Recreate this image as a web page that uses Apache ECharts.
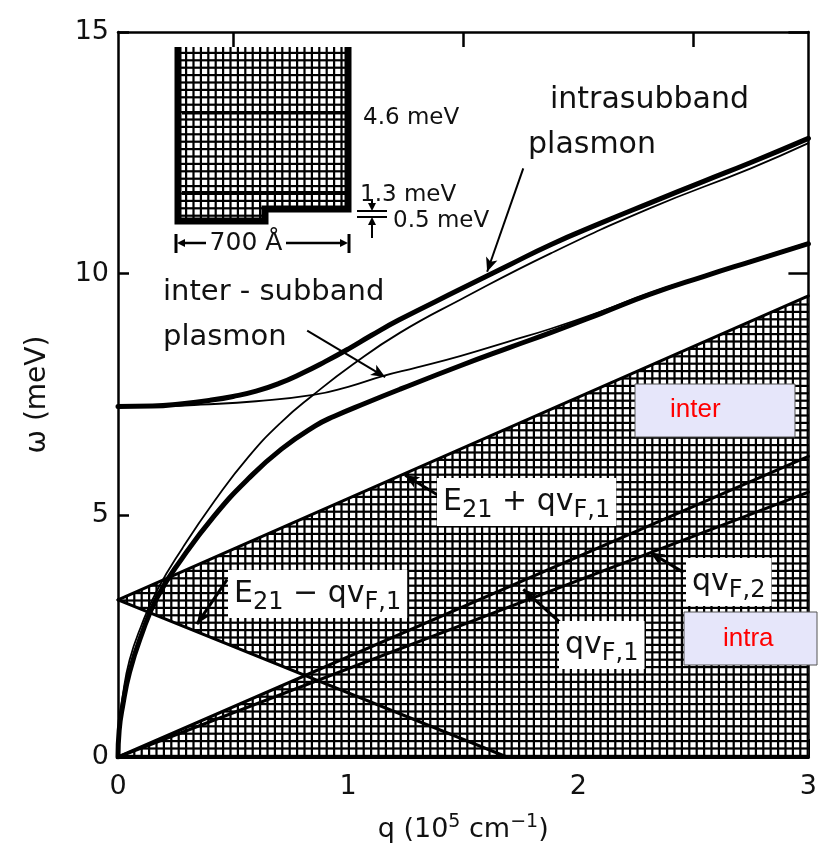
<!DOCTYPE html>
<html>
<head>
<meta charset="utf-8">
<script src="https://cdn.jsdelivr.net/npm/echarts@6/dist/echarts.min.js"></script>
<style>
  html, body { margin: 0; padding: 0; background: #fff; }
  #chart { width: 820px; height: 852px; }
</style>
</head>
<body>
<div id="chart"></div>
<script>
// ---- axis ranges and tick labels ----
const xRange = [0, 3];
const yRange = [0, 15];
const xTickLabels = ['0', '1', '2', '3'];
const yTickLabels = ['0', '5', '10', '15'];

// ---- plasmon dispersion curves, [q (1e5 cm^-1), omega (meV)] ----
// coupled modes (thick)
const upperBranch = [
  [0, 7.25], [0.15, 7.26], [0.28, 7.31], [0.4, 7.38], [0.5, 7.46], [0.6, 7.57],
  [0.7, 7.73], [0.8, 7.94], [0.9, 8.18], [1.0, 8.44], [1.1, 8.72], [1.22, 9.04],
  [1.48, 9.66], [1.7, 10.18], [1.88, 10.6], [2.1, 11.05], [2.31, 11.46], [2.55, 11.92],
  [2.75, 12.3], [3.0, 12.8]
];
const lowerBranch = [
  [0, 0], [0.005, 0.55], [0.02, 1.05], [0.05, 1.75], [0.1, 2.5], [0.17, 3.3],
  [0.28, 4.12], [0.42, 5.0], [0.565, 5.75], [0.71, 6.37], [0.857, 6.85], [0.94, 7.05],
  [1.08, 7.33], [1.226, 7.61], [1.49, 8.1], [1.7, 8.47], [1.88, 8.78], [2.1, 9.18],
  [2.31, 9.57], [2.55, 9.95], [2.75, 10.25], [3.0, 10.62]
];
// uncoupled modes (thin)
const intraPlasmon = [
  [0, 0], [0.005, 0.65], [0.02, 1.25], [0.05, 2.0], [0.1, 2.7], [0.17, 3.45],
  [0.28, 4.32], [0.42, 5.3], [0.565, 6.2], [0.71, 6.93], [0.848, 7.49], [1.02, 8.12],
  [1.226, 8.78], [1.487, 9.46], [1.88, 10.42], [2.31, 11.35], [2.75, 12.18], [3.0, 12.7]
];
const interPlasmon = [
  [0, 7.25], [0.2, 7.26], [0.36, 7.29], [0.6, 7.36], [0.848, 7.49], [1.0, 7.66],
  [1.15, 7.88], [1.3, 8.06], [1.49, 8.3], [1.7, 8.6], [1.88, 8.86], [2.1, 9.22],
  [2.31, 9.6], [2.55, 9.96], [2.75, 10.27], [3.0, 10.64]
];

// ---- single-particle continuum edges ----
const e21MinusLine = [[0, 3.25], [1.69, 0]];
const e21PlusLine = [[0, 3.25], [3, 9.54]];
const qvF1Line = [[0, 0], [3, 6.22]];
const qvF2Line = [[0, 0], [3, 5.48]];

// intersection of two straight segments (extended lines)
function intersect(a, b) {
  const [x1, y1] = a[0], [x2, y2] = a[1], [x3, y3] = b[0], [x4, y4] = b[1];
  const d = (x1 - x2) * (y3 - y4) - (y1 - y2) * (x3 - x4);
  const t = ((x1 - x3) * (y3 - y4) - (y1 - y3) * (x3 - x4)) / d;
  return [x1 + t * (x2 - x1), y1 + t * (y2 - y1)];
}
const crossing = intersect(e21MinusLine, qvF1Line);
// shaded continuum: everything below E21+qvF1 except the gap between qvF1 and E21-qvF1
const continuumPolygon = [
  qvF1Line[0], [xRange[1], yRange[0]], e21PlusLine[1], e21PlusLine[0], crossing
];

// cross-hatch fill
function makeHatch() {
  const size = 37, cells = 5, pitch = size / cells, bar = 2.2;
  const c = document.createElement('canvas');
  c.width = size; c.height = size;
  const g = c.getContext('2d');
  g.fillStyle = '#fff'; g.fillRect(0, 0, size, size);
  g.fillStyle = '#000';
  for (let i = 0; i < cells; i++) {
    g.fillRect(i * pitch, 0, bar, size);
    g.fillRect(0, i * pitch, size, bar);
  }
  return c;
}
const hatch = { image: makeHatch(), repeat: 'repeat' };

const FONT = 'DejaVu Sans';
const INK = '#111';

// leader arrows (from label to curve), in data coordinates
const leaderArrows = [
  { from: [1.761, 12.18], to: [1.604, 10.04], width: 2 },
  { from: [0.822, 8.82], to: [1.161, 7.86], width: 2 },
  { from: [1.40, 5.39], to: [1.248, 5.83], width: 3 },
  { from: [0.474, 3.67], to: [0.343, 2.75], width: 3 },
  { from: [2.457, 3.82], to: [2.313, 4.23], width: 3 },
  { from: [1.922, 2.78], to: [1.761, 3.47], width: 3 }
];

function curve(data, width, z, smooth) {
  return {
    type: 'line', data: data, smooth: smooth, showSymbol: false, silent: true, z: z,
    lineStyle: { color: '#000', width: width, cap: 'round', join: 'round' }
  };
}

const chart = echarts.init(document.getElementById('chart'), null, { renderer: 'canvas' });

// rich-text label with subscripts, white box over the hatching
function subLabel(x, y, text) {
  return {
    type: 'text', x: x, y: y, z: 120,
    style: {
      text: text, verticalAlign: 'middle', backgroundColor: '#fff', padding: [3, 6],
      rich: {
        m: { fontSize: 30, fontFamily: FONT, fill: INK },
        s: { fontSize: 24, fontFamily: FONT, fill: INK, padding: [18, 0, 0, 0] }
      }
    }
  };
}
function plainText(x, y, text, size, align) {
  return {
    type: 'text', x: x, y: y, z: 120,
    style: { text: text, fontSize: size, fontFamily: FONT, fill: INK, verticalAlign: 'middle', align: align || 'left' }
  };
}
function seg(x1, y1, x2, y2, w) {
  return { type: 'line', z: 110, shape: { x1, y1, x2, y2 }, style: { stroke: '#000', lineWidth: w } };
}
function head(x, y, dir) {
  // small filled arrowhead; dir: 'l','r','u','d'
  const s = 8, h = 4;
  const pts = {
    l: [[x, y], [x + s, y - h], [x + s, y + h]],
    r: [[x, y], [x - s, y - h], [x - s, y + h]],
    d: [[x, y], [x - h, y - s], [x + h, y - s]],
    u: [[x, y], [x - h, y + s], [x + h, y + s]]
  }[dir];
  return { type: 'polygon', z: 111, shape: { points: pts }, style: { fill: '#000' } };
}

const graphics = [
  // quantum-well sketch
  { type: 'polygon', z: 100, shape: { points: [[179, 47], [347, 47], [347, 209], [265, 209], [265, 221], [179, 221]] }, style: { fill: hatch } },
  { type: 'polyline', z: 105, shape: { points: [[178, 47], [178, 221], [265, 221], [265, 209], [348, 209], [348, 47]] }, style: { stroke: '#000', lineWidth: 7, lineJoin: 'miter', fill: null } },
  seg(182, 113, 345, 113, 3),
  seg(182, 193, 345, 193, 4),
  plainText(363, 118, '4.6 meV', 23),
  plainText(360, 195, '1.3 meV', 23),
  plainText(393, 221, '0.5 meV', 23),
  seg(357, 211, 387, 211, 2), seg(357, 217, 387, 217, 2),
  seg(372, 199, 372, 206, 2), head(372, 211, 'd'),
  seg(372, 238, 372, 224, 2), head(372, 217, 'u'),
  seg(176, 234, 176, 253, 3), seg(349, 234, 349, 253, 3),
  seg(184, 243, 206, 243, 2.5), head(177, 243, 'l'),
  seg(286, 243, 341, 243, 2.5), head(348, 243, 'r'),
  plainText(246, 243, '700 Å', 25, 'center'),
  // curve names
  plainText(163, 292, 'inter - subband', 29),
  plainText(163, 337, 'plasmon', 29),
  plainText(550, 100, 'intrasubband', 30),
  plainText(528, 145, 'plasmon', 30),
  // continuum edge labels
  subLabel(437, 502, '{m|E}{s|21}{m| + qv}{s|F,1}'),
  subLabel(228, 594, '{m|E}{s|21}{m| − qv}{s|F,1}'),
  subLabel(686, 582, '{m|qv}{s|F,2}'),
  subLabel(559, 645, '{m|qv}{s|F,1}'),
  // region tags
  { type: 'rect', z: 130, shape: { x: 635, y: 384, width: 160, height: 53 }, style: { fill: '#e6e6fa', stroke: '#555', lineWidth: 1 } },
  { type: 'text', z: 131, x: 670, y: 410, style: { text: 'inter', fontSize: 26, fontFamily: 'Liberation Sans', fill: '#ff0000', verticalAlign: 'middle' } },
  { type: 'rect', z: 130, shape: { x: 684, y: 612, width: 133, height: 53 }, style: { fill: '#e6e6fa', stroke: '#555', lineWidth: 1 } },
  { type: 'text', z: 131, x: 723, y: 639, style: { text: 'intra', fontSize: 26, fontFamily: 'Liberation Sans', fill: '#ff0000', verticalAlign: 'middle' } }
];

const option = {
  animation: false,
  backgroundColor: '#fff',
  grid: { left: 118, right: 11, top: 32, bottom: 95, containLabel: false },
  xAxis: [{
    type: 'value', min: xRange[0], max: xRange[1], interval: 0.5, position: 'bottom',
    axisLine: { show: true, onZero: false, lineStyle: { color: '#000', width: 3 } },
    axisTick: { show: true, inside: true, length: 18, lineStyle: { color: '#000', width: 3 } },
    axisLabel: {
      formatter: v => Number.isInteger(v) ? xTickLabels[v] : '',
      fontSize: 27, fontFamily: FONT, color: INK, margin: 16
    },
    splitLine: { show: false },
    name: '{t|q (10}{sup|5}{t| cm}{sup|−1}{t|)}',
    nameLocation: 'middle', nameGap: 56,
    nameTextStyle: {
      rich: {
        t: { fontSize: 27, fontFamily: FONT, color: INK },
        sup: { fontSize: 19, fontFamily: FONT, color: INK, padding: [0, 0, 14, 0] }
      }
    }
  }, {
    type: 'value', min: xRange[0], max: xRange[1], interval: 0.5, position: 'top',
    axisLine: { show: true, onZero: false, lineStyle: { color: '#000', width: 2.5 } },
    axisTick: { show: true, inside: true, length: 15, customValues: [0.5, 1.5, 2.5], lineStyle: { color: '#000', width: 2.5 } },
    axisLabel: { show: false }, splitLine: { show: false }
  }],
  yAxis: [{
    type: 'value', min: yRange[0], max: yRange[1], interval: 5, position: 'left',
    axisLine: { show: true, onZero: false, lineStyle: { color: '#000', width: 2.5 } },
    axisTick: { show: true, inside: true, length: 11, lineStyle: { color: '#000', width: 2.5 } },
    axisLabel: { formatter: v => yTickLabels[v / 5], fontSize: 27, fontFamily: FONT, color: INK, margin: 9 },
    splitLine: { show: false },
    name: 'ω (meV)', nameLocation: 'middle', nameGap: 66, nameRotate: 90,
    nameTextStyle: { fontSize: 28, fontFamily: FONT, color: INK }
  }, {
    type: 'value', min: yRange[0], max: yRange[1], interval: 5, position: 'right',
    axisLine: { show: true, onZero: false, lineStyle: { color: '#000', width: 2.5 } },
    axisTick: { show: true, inside: true, length: 20, lineStyle: { color: '#000', width: 2.5 } },
    axisLabel: { show: false }, splitLine: { show: false }
  }],
  series: [
    {
      type: 'custom', coordinateSystem: 'cartesian2d', silent: true, z: 1,
      data: [[0, 0]],
      renderItem: (params, api) => ({
        type: 'polygon',
        shape: { points: continuumPolygon.map(p => api.coord(p)) },
        style: { fill: hatch }
      })
    },
    curve(e21MinusLine, 3, 2, false),
    curve(e21PlusLine, 3, 2, false),
    curve(qvF2Line, 3, 2, false),
    Object.assign(curve(qvF1Line, 3, 2, false), {
      markLine: {
        silent: true, animation: false,
        symbol: ['none', 'arrow'], symbolSize: [9, 14],
        label: { show: false },
        lineStyle: { color: '#000', type: 'solid' },
        data: leaderArrows.map(a => [
          { coord: a.from, lineStyle: { width: a.width, color: '#000', type: 'solid' } },
          { coord: a.to }
        ])
      }
    }),
    curve(interPlasmon, 1.8, 3, 0.5),
    curve(intraPlasmon, 1.8, 3, 0.5),
    curve(upperBranch, 5, 4, 0.5),
    curve(lowerBranch, 5, 4, 0.5)
  ],
  graphic: { elements: graphics }
};

chart.setOption(option);
</script>
</body>
</html>
